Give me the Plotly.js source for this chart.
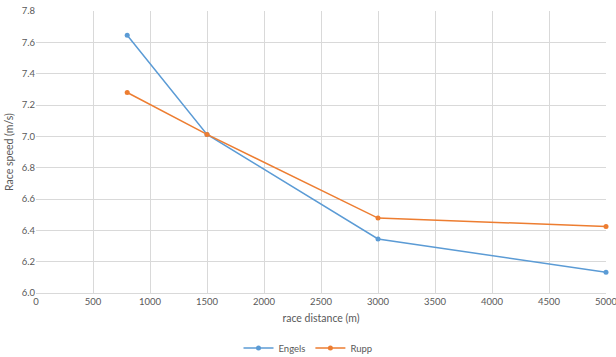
<!DOCTYPE html>
<html>
<head>
<meta charset="utf-8">
<script src="https://cdn.plot.ly/plotly-3.0.1.min.js"></script>
<style>html,body{margin:0;padding:0;background:#fff;}#chart{width:616px;height:357px;}</style>
</head>
<body>
<div id="chart"></div>
<script>
const distances = [800, 1500, 3000, 5000];
const engels = [7.645, 7.012, 6.345, 6.132];
const rupp = [7.28, 7.012, 6.478, 6.425];

const fam = 'Lato, "Open Sans", sans-serif';
const font = {family: fam, size: 9.5, color: '#595959'};

const traces = [
  {x: distances, y: engels, name: 'Engels', mode: 'lines+markers', type: 'scatter',
   line: {color: '#5B9BD5', width: 1.5}, marker: {color: '#5B9BD5', size: 5}, cliponaxis: false},
  {x: distances, y: rupp, name: 'Rupp', mode: 'lines+markers', type: 'scatter',
   line: {color: '#ED7D31', width: 1.5}, marker: {color: '#ED7D31', size: 5}, cliponaxis: false}
];

const layout = {
  width: 616, height: 357,
  margin: {l: 36, r: 10, t: 11, b: 64, autoexpand: false},
  paper_bgcolor: '#fff', plot_bgcolor: '#fff',
  font: font,
  showlegend: true,
  legend: {orientation: 'h', x: 0.5, xanchor: 'center', xref: 'container', y: 0.025, yanchor: 'middle', yref: 'container',
           font: {family: fam, size: 9.5, color: '#595959'}},
  xaxis: {
    range: [0, 5000], tickvals: [0,500,1000,1500,2000,2500,3000,3500,4000,4500,5000],
    showgrid: true, gridcolor: '#D9D9D9', gridwidth: 1,
    zeroline: false, showline: true, linecolor: '#D9D9D9',
    ticks: '', ticklen: 0, ticklabeloverflow: 'allow',
    tickfont: font, automargin: false,
    title: {text: 'race distance (m)', font: {family: fam, size: 10.5, color: '#595959'}, standoff: 8}
  },
  yaxis: {
    range: [6.0, 7.8], dtick: 0.2, tick0: 6.0, tickformat: '.1f',
    showgrid: true, gridcolor: '#D9D9D9', gridwidth: 1,
    zeroline: false, showline: false, automargin: false,
    ticks: '', tickfont: font,
    title: {text: 'Race speed (m/s)', font: {family: fam, size: 10.5, color: '#595959'}, standoff: 6}
  }
};

Plotly.newPlot('chart', traces, layout, {displayModeBar: false, staticPlot: true});
</script>
</body>
</html>
